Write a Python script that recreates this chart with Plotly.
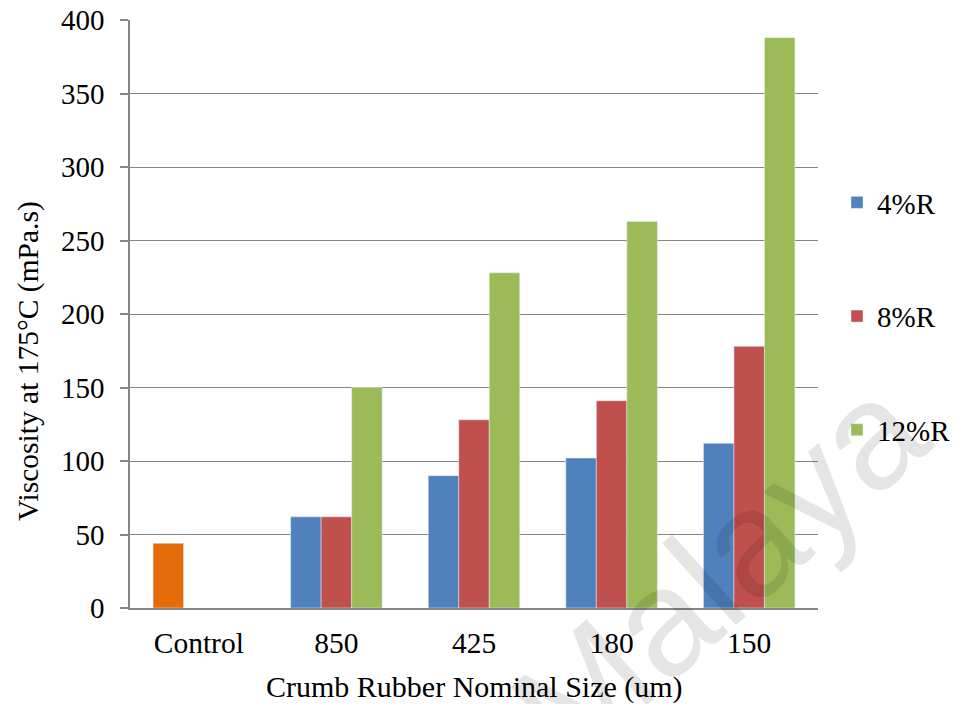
import plotly.graph_objects as go

categories = ["Control", "850", "425", "180", "150"]
control_value = [44]
r4 = [None, 62, 90, 102, 112]
r8 = [None, 62, 128, 141, 178]
r12 = [None, 150, 228, 263, 388]
y_ticks = [0, 50, 100, 150, 200, 250, 300, 350, 400]

FONT = "Liberation Serif"
GRAY = "#868686"

# plot area in pixels
L, R, T, B = 130, 818, 20, 608
W, H = 956, 704
PW, PH = R - L, B - T


def px(x):
    return (x - L) / PW


def py(y):
    return (B - y) / PH


fig = go.Figure()
fig.add_trace(go.Bar(x=categories, y=r4, name="4%R", marker_color="#4F81BD",
                     offsetgroup="g4", legendgroup="a"))
fig.add_trace(go.Bar(x=categories[:1], y=control_value, name="Control",
                     marker_color="#E36C09", offsetgroup="g4", showlegend=False))
fig.add_trace(go.Bar(x=categories, y=r8, name="8%R", marker_color="#C0504D",
                     offsetgroup="g8", legendgroup="b"))
fig.add_trace(go.Bar(x=categories, y=r12, name="12%R", marker_color="#9BBB59",
                     offsetgroup="g12", legendgroup="c"))

# watermark
fig.add_annotation(text="Malaya", xref="paper", yref="paper",
                   x=px(718), y=py(570), xanchor="center", yanchor="middle",
                   showarrow=False, textangle=-42,
                   font=dict(family="Liberation Sans", size=152,
                             color="rgba(0,0,0,0.1)"))
# axis titles
fig.add_annotation(text="Viscosity at 175°C (mPa.s)", xref="paper", yref="paper",
                   x=px(28), y=py(361), xanchor="center", yanchor="middle",
                   showarrow=False, textangle=-90,
                   font=dict(family=FONT, size=29.5, color="black"))
fig.add_annotation(text="Crumb Rubber Nominal Size (um)", xref="paper", yref="paper",
                   x=0.5, y=py(687), xanchor="center", yanchor="middle",
                   showarrow=False,
                   font=dict(family=FONT, size=30, color="black"))

fig.update_layout(
    width=W, height=H,
    margin=dict(l=L, r=W - R, t=T, b=H - B, autoexpand=False),
    paper_bgcolor="white", plot_bgcolor="white",
    barmode="group", bargap=0.335, bargroupgap=0,
    font=dict(family=FONT, size=29, color="black"),
    legend=dict(x=px(837), xanchor="left", y=py(177),
                yanchor="top", traceorder="grouped", tracegroupgap=73,
                font=dict(family=FONT, size=29), bgcolor="rgba(0,0,0,0)"),
    showlegend=True,
)
fig.update_xaxes(type="category", showline=True, linecolor=GRAY, linewidth=1.5,
                 ticks="", showgrid=False, tickfont=dict(family=FONT, size=29.5),
                 ticklabelstandoff=8, automargin=False)
fig.update_yaxes(range=[0, 400], tickvals=y_ticks, showline=True, linecolor=GRAY,
                 linewidth=1.5, showgrid=True, gridcolor=GRAY, gridwidth=1.2,
                 zeroline=False, ticks="outside", ticklen=8, tickcolor=GRAY,
                 tickwidth=1.5, tickfont=dict(family=FONT, size=29),
                 ticklabelstandoff=10, automargin=False)

fig.write_html("out.html")
